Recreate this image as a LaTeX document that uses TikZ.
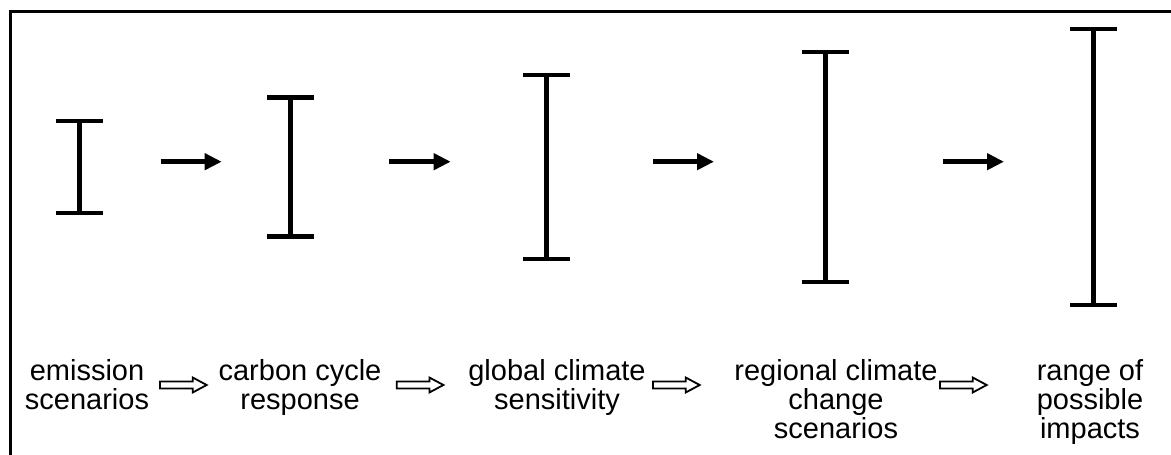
\documentclass[tikz,border=0pt]{standalone}
\usepackage{fontspec}
\setmainfont{Liberation Sans}
\usetikzlibrary{arrows.meta}
\begin{document}
\begin{tikzpicture}[x=1pt,y=-1pt,
  bar/.style={line width=4.6pt},
  flow/.style={line width=4.6pt,-{Triangle[length=17pt,width=16pt]}},
  hollow/.style={draw,line width=1.8pt,fill=white},
  lbl/.style={align=center,anchor=base,inner sep=0pt,font=\fontsize{29}{28.8}\selectfont},
  hollowarrow/.pic={\draw[hollow] (0,-3.5) -- (32.7,-3.5) -- (32.7,-7.5) -- (46.7,0) -- (32.7,7.5) -- (32.7,3.5) -- (0,3.5) -- cycle;}]
\useasboundingbox (0,0) rectangle (1171,455);
\draw[line width=3pt] (10,11) rectangle (1200,480);
% error bars
\foreach \i/\x/\h in {1/79.5/46,2/290.7/69.5,3/546.7/92,4/825.7/115,5/1093.7/138} {
  \coordinate (b\i t) at (\x,167-\h);
  \coordinate (b\i b) at (\x,167+\h);
  \draw[bar] ([xshift=-23.5pt]b\i t) -- ([xshift=23.5pt]b\i t)
             (b\i t) -- (b\i b)
             ([xshift=-23.5pt]b\i b) -- ([xshift=23.5pt]b\i b);
}
% solid arrows
\foreach \i/\xs/\xe in {1/160.7/221.7,2/389/450.7,3/653/714,4/943/1004} {
  \coordinate (a\i s) at (\xs,161.7);
  \coordinate (a\i e) at (\xe,161.7);
  \draw[flow] (a\i s) -- (a\i e);
}
% labels (anchor = baseline of last line)
\node[lbl] (l1) at (87,409) {emission\\scenarios};
\node[lbl] (l2) at (300,409) {carbon cycle\\response};
\node[lbl] (l3) at (557,409) {global climate\\sensitivity};
\node[lbl] (l4) at (836,438) {regional climate\\change\\scenarios};
\node[lbl] (l5) at (1090,438) {range of\\possible\\impacts};
% hollow arrows
\pic at (160,385) {hollowarrow};
\pic at (396.7,385) {hollowarrow};
\pic at (653,385) {hollowarrow};
\pic at (940,385) {hollowarrow};
\end{tikzpicture}
\end{document}
